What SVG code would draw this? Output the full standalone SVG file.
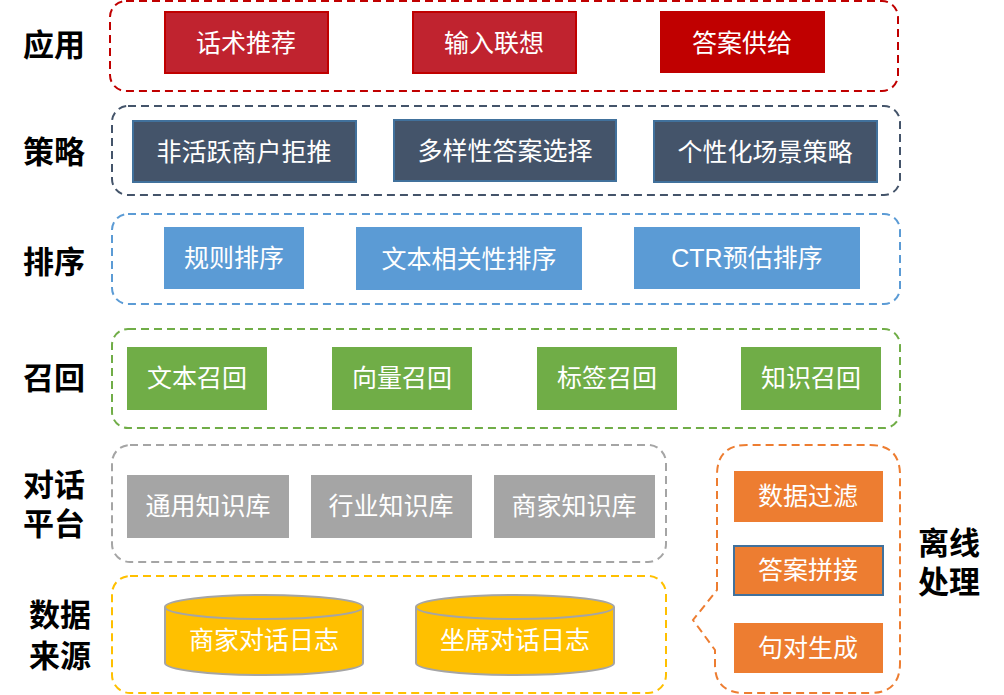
<svg xmlns="http://www.w3.org/2000/svg" width="1004" height="695" viewBox="0 0 1004 695">
<style>
.lbl{font-family:"Liberation Sans","Noto Sans CJK SC",sans-serif;font-size:31px;font-weight:bold;fill:#000;text-anchor:middle;dominant-baseline:central}
.t{font-family:"Liberation Sans","Noto Sans CJK SC",sans-serif;font-size:25px;fill:#fff;text-anchor:middle;dominant-baseline:central}
.grp{fill:none;stroke-width:2;stroke-dasharray:8,5}
.red{fill:#C0232F;stroke:#C00000;stroke-width:2}
.red2{fill:#C00000}
.navy{fill:#44546A;stroke:#41719C;stroke-width:2}
.blue{fill:#5B9BD5}
.green{fill:#70AD47}
.gray{fill:#A5A5A5}
.orange{fill:#ED7D31}
.cyl{fill:#FFC000;stroke:#A5A5A5;stroke-width:2}
</style>
<rect width="1004" height="695" fill="#fff"/>
<g id="layers">
<rect class="grp" x="110" y="1" width="788" height="90" rx="16" stroke="#C00000"/>
<rect class="grp" x="112" y="106" width="788" height="89" rx="16" stroke="#44546A"/>
<rect class="grp" x="112" y="214" width="788" height="90" rx="16" stroke="#5B9BD5"/>
<rect class="grp" x="112" y="329" width="788" height="99" rx="16" stroke="#70AD47"/>
<rect class="grp" x="112" y="445" width="554" height="117" rx="18" stroke="#A5A5A5"/>
<rect class="grp" x="112" y="576" width="554" height="117" rx="18" stroke="#FFC000"/>
<path class="grp" stroke="#ED7D31" d="M717,590 L717,475 Q717,445 747,445 L870,445 Q900,445 900,475 L900,663 Q900,693 870,693 L745,693 Q715,693 715,665 L715,650 L693,620 L717,590 Z"/>
</g>
<g id="labels">
<text class="lbl" x="54" y="45">应用</text>
<text class="lbl" x="54" y="152">策略</text>
<text class="lbl" x="54" y="262">排序</text>
<text class="lbl" x="54" y="378">召回</text>
<text class="lbl" x="54" y="485">对话</text>
<text class="lbl" x="54" y="524">平台</text>
<text class="lbl" x="60" y="615">数据</text>
<text class="lbl" x="60" y="656">来源</text>
<text class="lbl" x="949" y="543">离线</text>
<text class="lbl" x="949" y="582">处理</text>
</g>
<g id="n-huashu"><rect class="red" x="165" y="12" width="163" height="61"/><text class="t" x="246" y="43">话术推荐</text></g>
<g id="n-shuru"><rect class="red" x="413" y="12" width="163" height="61"/><text class="t" x="494" y="43">输入联想</text></g>
<g id="n-daan"><rect class="red2" x="660" y="11" width="165" height="62"/><text class="t" x="742" y="43">答案供给</text></g>
<g id="n-feihuoyue"><rect class="navy" x="133" y="121" width="223" height="61"/><text class="t" x="244" y="152">非活跃商户拒推</text></g>
<g id="n-duoyang"><rect class="navy" x="394" y="120" width="222" height="61"/><text class="t" x="505" y="151">多样性答案选择</text></g>
<g id="n-gexing"><rect class="navy" x="654" y="121" width="223" height="61"/><text class="t" x="765" y="152">个性化场景策略</text></g>
<g id="n-guize"><rect class="blue" x="164" y="227" width="140" height="62"/><text class="t" x="234" y="258">规则排序</text></g>
<g id="n-wenben"><rect class="blue" x="356" y="227" width="226" height="63"/><text class="t" x="469" y="259">文本相关性排序</text></g>
<g id="n-ctr"><rect class="blue" x="634" y="227" width="226" height="62"/><text class="t" x="747" y="258">CTR预估排序</text></g>
<g id="n-wbzh"><rect class="green" x="127" y="347" width="140" height="63"/><text class="t" x="197" y="378">文本召回</text></g>
<g id="n-xlzh"><rect class="green" x="332" y="347" width="140" height="63"/><text class="t" x="402" y="378">向量召回</text></g>
<g id="n-bqzh"><rect class="green" x="537" y="347" width="140" height="63"/><text class="t" x="607" y="378">标签召回</text></g>
<g id="n-zszh"><rect class="green" x="741" y="347" width="140" height="63"/><text class="t" x="811" y="378">知识召回</text></g>
<g id="n-tongyong"><rect class="gray" x="127" y="475" width="162" height="63"/><text class="t" x="208" y="506">通用知识库</text></g>
<g id="n-hangye"><rect class="gray" x="311" y="475" width="161" height="63"/><text class="t" x="391" y="506">行业知识库</text></g>
<g id="n-shangjia"><rect class="gray" x="494" y="475" width="161" height="63"/><text class="t" x="574" y="506">商家知识库</text></g>
<g id="n-sjrz"><path class="cyl" d="M165,607 L165,663 A99,12 0 0 0 363,663 L363,607 A99,12 0 0 0 165,607 Z"/><path class="cyl" d="M165,607 A99,12 0 0 0 363,607"/><text class="t" x="264" y="640">商家对话日志</text></g>
<g id="n-zxrz"><path class="cyl" d="M416,607 L416,663 A99,12 0 0 0 614,663 L614,607 A99,12 0 0 0 416,607 Z"/><path class="cyl" d="M416,607 A99,12 0 0 0 614,607"/><text class="t" x="515" y="640">坐席对话日志</text></g>
<g id="n-guolv"><rect class="orange" x="734" y="471" width="149" height="51"/><text class="t" x="808" y="496">数据过滤</text></g>
<g id="n-pinjie"><rect class="orange" x="734" y="546" width="149" height="49" stroke="#41719C" stroke-width="2"/><text class="t" x="808" y="570">答案拼接</text></g>
<g id="n-juzi"><rect class="orange" x="734" y="623" width="149" height="50"/><text class="t" x="808" y="648">句对生成</text></g>
<g id="connectors"></g>
</svg>
